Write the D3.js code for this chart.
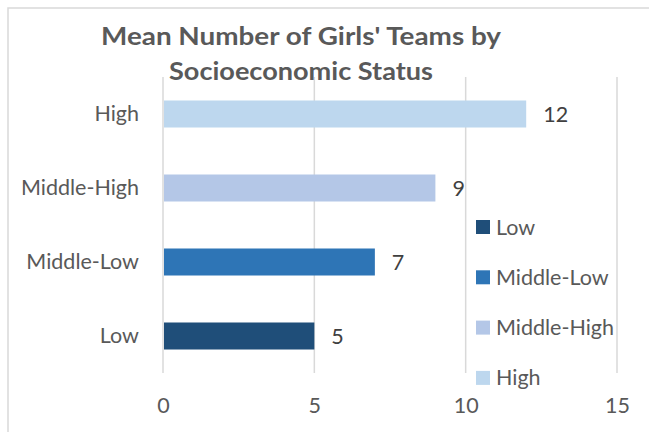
<!DOCTYPE html>
<html>
<head>
<meta charset="utf-8">
<title>Mean Number of Girls' Teams</title>
<script src="https://d3js.org/d3.v7.min.js"></script>
<style>
  body { margin: 0; background: #fff; }
  svg { display: block; font-family: Lato, "Open Sans", sans-serif; }
</style>
</head>
<body>
<svg id="chart" width="649" height="432"></svg>
<script>
// data
var categories = ["Low", "Middle-Low", "Middle-High", "High"];
var values = [5, 7, 9, 12];
var colors = ["#1f4e79", "#2e75b6", "#b4c7e7", "#bdd7ee"];
var xTicks = [0, 5, 10, 15];
var titleLines = ["Mean Number of Girls' Teams by", "Socioeconomic Status"];

var svg = d3.select("#chart");
var grey = "#595959";
var fs = "21.5px";

// chart border (runs off right/bottom edges)
svg.append("rect")
  .attr("x", 8).attr("y", 8)
  .attr("width", 660).attr("height", 440)
  .attr("fill", "none").attr("stroke", "#d9d9d9").attr("stroke-width", 1.5);

var x = d3.scaleLinear().domain([0, 15]).range([163, 617]);
var y = d3.scaleBand().domain(categories.slice().reverse()).range([77, 373])
  .paddingInner(0.635).paddingOuter(0.3175);
var color = d3.scaleOrdinal(categories, colors);

// gridlines
svg.append("g").selectAll("line").data(xTicks).join("line")
  .attr("x1", d => x(d)).attr("x2", d => x(d))
  .attr("y1", 77).attr("y2", 373)
  .attr("stroke", "#d9d9d9").attr("stroke-width", 1.5);

// x axis labels
var xAxis = d3.axisBottom(x).tickValues(xTicks).tickSize(0).tickPadding(0);
var gx = svg.append("g").attr("transform", "translate(0,398)").call(xAxis);
gx.select(".domain").remove();
gx.selectAll("text").attr("fill", grey).style("font-size", fs)
  .style("font-family", "Lato, 'Open Sans', sans-serif");

// y axis labels
var yAxis = d3.axisLeft(y).tickSize(0).tickPadding(0);
var gy = svg.append("g").attr("transform", "translate(139,0)").call(yAxis);
gy.select(".domain").remove();
gy.selectAll("text").attr("fill", grey).style("font-size", fs)
  .style("font-family", "Lato, 'Open Sans', sans-serif");

// bars
var rows = categories.map((c, i) => ({cat: c, val: values[i]}));
svg.append("g").selectAll("rect").data(rows).join("rect")
  .attr("x", x(0) + 1)
  .attr("y", d => y(d.cat))
  .attr("width", d => x(d.val) - x(0) - 1)
  .attr("height", y.bandwidth())
  .attr("fill", d => color(d.cat));

// data labels
svg.append("g").selectAll("text").data(rows).join("text")
  .attr("x", d => x(d.val) + 17)
  .attr("y", d => y(d.cat) + y.bandwidth() / 2)
  .attr("dy", "0.35em")
  .attr("fill", "#404040").style("font-size", fs)
  .text(d => d.val);

// legend
var lg = svg.append("g").selectAll("g").data(categories).join("g")
  .attr("transform", (d, i) => `translate(476,${227 + i * 50.3})`);
lg.append("rect").attr("x", 0).attr("y", -7).attr("width", 14).attr("height", 14)
  .attr("fill", d => color(d));
lg.append("text").attr("x", 20).attr("dy", "0.35em")
  .attr("fill", grey).style("font-size", fs).text(d => d);

// title (Calibri is wider per cap height than Lato, so stretch to measured widths)
var titleWidths = [400, 264];
svg.append("g").selectAll("text").data(titleLines).join("text")
  .attr("x", 301).attr("y", (d, i) => 45 + i * 35)
  .attr("text-anchor", "middle")
  .attr("textLength", (d, i) => titleWidths[i])
  .attr("lengthAdjust", "spacingAndGlyphs")
  .attr("fill", grey).style("font-size", "24px").style("font-weight", "bold")
  .text(d => d);
</script>
</body>
</html>
